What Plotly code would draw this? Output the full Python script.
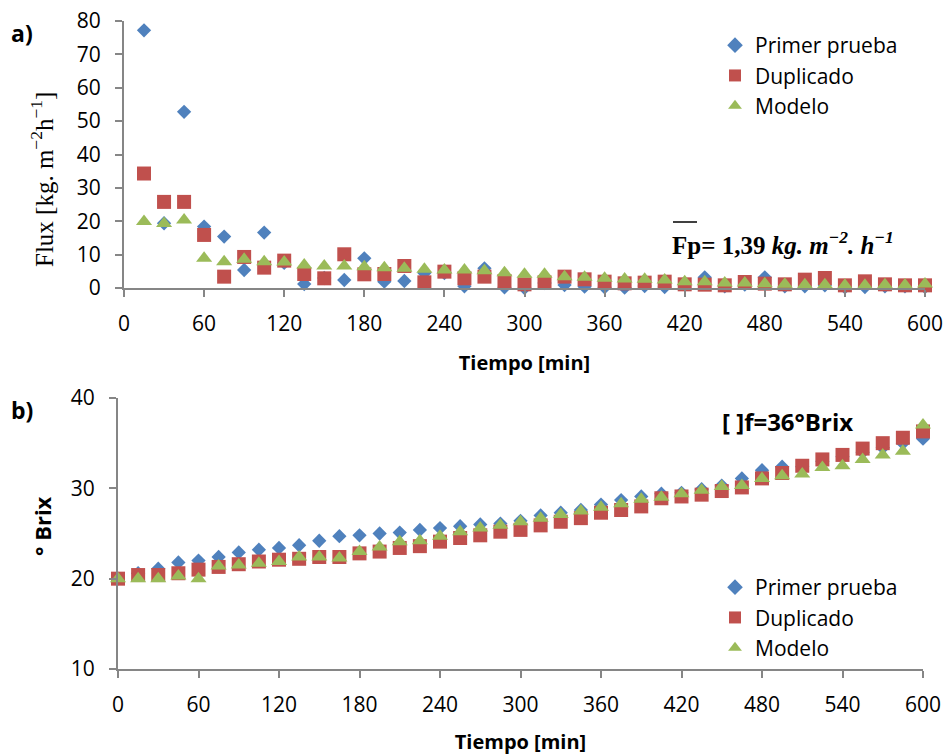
import plotly.graph_objects as go

# ---------------- data ----------------
t_flux = [15, 30, 45, 60, 75, 90, 105, 120, 135, 150, 165, 180, 195, 210, 225, 240,
          255, 270, 285, 300, 315, 330, 345, 360, 375, 390, 405, 420, 435, 450, 465,
          480, 495, 510, 525, 540, 555, 570, 585, 600]
flux_primer = [77.2, 19.4, 52.8, 18.4, 15.4, 5.4, 16.6, 7.5, 1.2, 3.0, 2.4, 8.9, 1.9, 2.1,
               4.5, 4.5, 0.5, 5.9, 0.2, 0.0, 1.5, 0.9, 0.4, 0.2, 0.1, 0.6, 0.3, 1.0, 3.2,
               0.5, 1.0, 3.2, 0.5, 0.5, 0.8, 0.2, 0.3, 0.5, 0.5, 0.3]
flux_duplicado = [34.3, 25.8, 25.8, 15.9, 3.4, 9.3, 6.1, 8.2, 4.2, 2.9, 10.1, 4.1, 4.2, 6.6,
                  1.7, 4.9, 2.9, 3.4, 2.1, 1.1, 1.7, 3.4, 2.6, 1.9, 1.4, 1.6, 1.9, 1.1, 1.0,
                  0.8, 1.8, 1.3, 1.1, 2.5, 3.0, 0.8, 2.0, 1.1, 0.8, 0.8]
flux_modelo = [19.9, 19.3, 20.4, 8.9, 7.9, 8.6, 7.9, 7.8, 6.9, 6.6, 6.6, 6.4, 6.1, 5.9,
               5.6, 5.4, 5.4, 5.2, 4.6, 4.1, 4.1, 3.4, 3.2, 2.9, 2.7, 2.6, 2.4, 1.9, 1.9,
               1.5, 1.5, 1.3, 1.1, 1.0, 1.0, 0.8, 0.8, 1.0, 0.9, 1.2]

t_brix = [0, 15, 30, 45, 60, 75, 90, 105, 120, 135, 150, 165, 180, 195, 210, 225, 240,
          255, 270, 285, 300, 315, 330, 345, 360, 375, 390, 405, 420, 435, 450, 465,
          480, 495, 510, 525, 540, 555, 570, 585, 600]
brix_primer = [20.0, 20.6, 21.1, 21.8, 22.0, 22.4, 22.9, 23.2, 23.4, 23.7, 24.2, 24.7, 24.8,
               25.0, 25.1, 25.4, 25.6, 25.8, 26.0, 26.1, 26.4, 27.0, 27.3, 27.6, 28.2, 28.7,
               29.1, 29.4, 29.5, 29.9, 30.3, 31.1, 32.0, 32.4, 32.4, 33.0, 33.5, 34.0, 34.5,
               35.0, 35.5]
brix_duplicado = [20.0, 20.4, 20.4, 20.6, 21.0, 21.3, 21.6, 21.9, 22.1, 22.2, 22.4, 22.4,
                  22.8, 23.0, 23.4, 23.6, 24.1, 24.5, 24.8, 25.2, 25.4, 25.9, 26.3, 26.7,
                  27.3, 27.6, 28.0, 28.9, 29.1, 29.3, 29.7, 30.1, 31.1, 31.7, 32.5, 33.2,
                  33.7, 34.4, 35.0, 35.6, 36.3]
brix_modelo = [20.0, 20.0, 20.0, 20.3, 20.0, 21.4, 21.5, 21.7, 21.9, 22.4, 22.4, 22.3, 23.0,
               23.5, 24.1, 24.2, 24.7, 25.2, 25.6, 25.9, 26.3, 26.7, 27.1, 27.5, 27.9, 28.3,
               28.8, 29.0, 29.4, 29.8, 30.2, 30.3, 31.1, 31.4, 31.6, 32.3, 32.5, 33.2, 33.7,
               34.1, 37.0]

series_names = ["Primer prueba", "Duplicado", "Modelo"]
x_ticks = [0, 60, 120, 180, 240, 300, 360, 420, 480, 540, 600]
flux_ticks = [0, 10, 20, 30, 40, 50, 60, 70, 80]
brix_ticks = [10, 20, 30, 40]

# ---------------- style ----------------
W, H = 950, 755
colors = ["#4F81BD", "#C0504D", "#9BBB59"]
symbols = ["diamond", "square", "triangle-up"]
sizes = [11, 14, 14]
SANS = "Open Sans, Lato, sans-serif"
TICKFONT = dict(family=SANS, size=21, color="#000000")
AX = "#868686"


def px_x(x):
    return x / W


def px_y(y):
    return 1 - y / H


fig = go.Figure()

top = [flux_primer, flux_duplicado, flux_modelo]
bot = [brix_primer, brix_duplicado, brix_modelo]
for i in range(3):
    fig.add_trace(go.Scatter(x=t_flux, y=top[i], mode="markers", name=series_names[i],
                             marker=dict(symbol=symbols[i], size=sizes[i], color=colors[i],
                                         line=dict(width=0)),
                             cliponaxis=False, xaxis="x", yaxis="y", legend="legend"))
for i in range(3):
    fig.add_trace(go.Scatter(x=t_brix, y=bot[i], mode="markers", name=series_names[i],
                             marker=dict(symbol=symbols[i], size=sizes[i], color=colors[i],
                                         line=dict(width=0)),
                             cliponaxis=False, xaxis="x2", yaxis="y2", legend="legend2"))

common_x = dict(range=[0, 600], tickvals=x_ticks, showgrid=False, zeroline=False,
                showline=True, linecolor=AX, linewidth=2, ticks="outside", ticklen=7,
                tickcolor=AX, tickwidth=2, tickfont=TICKFONT, automargin=False,
                ticklabelstandoff=9,
                title=dict(text="<b>Tiempo [min]</b>",
                           font=dict(family=SANS, size=20, color="#000000"), standoff=20))
common_y = dict(showgrid=False, zeroline=False, showline=True, linecolor=AX, linewidth=2,
                ticks="outside", ticklen=7, tickcolor=AX, tickwidth=2, tickfont=TICKFONT,
                automargin=False, ticklabelstandoff=10)

fig.update_layout(
    template="none",
    width=W, height=H, plot_bgcolor="white", paper_bgcolor="white",
    margin=dict(l=0, r=0, t=0, b=0, autoexpand=False),
    xaxis=dict(domain=[px_x(124), px_x(925)], anchor="y", **common_x),
    yaxis=dict(domain=[px_y(288), px_y(21)], anchor="x", range=[0, 80], tickvals=flux_ticks,
               **common_y),
    xaxis2=dict(domain=[px_x(118), px_x(923)], anchor="y2", **common_x),
    yaxis2=dict(domain=[px_y(669), px_y(398)], anchor="x2", range=[10, 40],
                tickvals=brix_ticks, **common_y),
    legend=dict(x=px_x(715), y=px_y(25), xanchor="left", yanchor="top",
                font=dict(family=SANS, size=21, color="#000000"),
                bgcolor="rgba(0,0,0,0)", itemsizing="constant", tracegroupgap=0),
    legend2=dict(x=px_x(715), y=px_y(567), xanchor="left", yanchor="top",
                 font=dict(family=SANS, size=21, color="#000000"),
                 bgcolor="rgba(0,0,0,0)", itemsizing="constant", tracegroupgap=0),
    showlegend=True,
)

# y-axis titles (rotated)
fig.add_annotation(x=px_x(42), y=px_y(180), xref="paper", yref="paper", xanchor="center",
                   yanchor="middle", showarrow=False, textangle=-90,
                   text="Flux [kg. m<sup>−2</sup>h<sup>−1</sup>]",
                   font=dict(family="Liberation Serif, serif", size=25, color="#000000"))
fig.add_annotation(x=px_x(42), y=px_y(526), xref="paper", yref="paper", xanchor="center",
                   yanchor="middle", showarrow=False, textangle=-90,
                   text="<b>° Brix</b>",
                   font=dict(family=SANS, size=22, color="#000000"))

fig.add_annotation(x=px_x(9), y=px_y(33), xref="paper", yref="paper", xanchor="left",
                   yanchor="middle", showarrow=False, text="<b>a)</b>",
                   font=dict(family=SANS, size=23, color="#000000"))
fig.add_annotation(x=px_x(9), y=px_y(410), xref="paper", yref="paper", xanchor="left",
                   yanchor="middle", showarrow=False, text="<b>b)</b>",
                   font=dict(family=SANS, size=23, color="#000000"))
fig.add_annotation(x=px_x(670), y=px_y(243), xref="paper", yref="paper", xanchor="left",
                   yanchor="middle", showarrow=False,
                   text="<b>Fp= 1,39 <i>kg. m<sup>−2</sup>. h<sup>−1</sup></i></b>",
                   font=dict(family="Liberation Serif, serif", size=25, color="#000000"))
fig.add_shape(type="line", xref="paper", yref="paper", x0=px_x(673), x1=px_x(697),
              y0=px_y(222), y1=px_y(222), line=dict(color="#000000", width=1.5))
fig.add_annotation(x=px_x(720), y=px_y(421), xref="paper", yref="paper", xanchor="left",
                   yanchor="middle", showarrow=False, text="<b>[ ]f=36°Brix</b>",
                   font=dict(family=SANS, size=24, color="#000000"))

fig.write_html("out.html")
